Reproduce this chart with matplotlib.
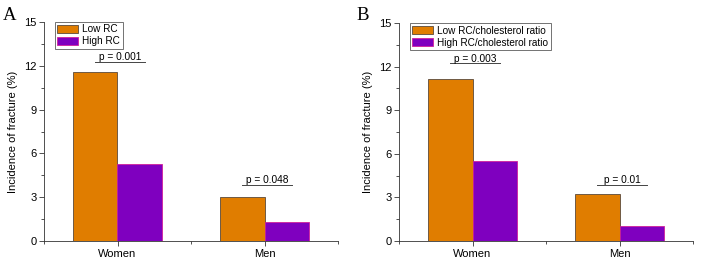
import matplotlib
matplotlib.use("Agg")
import matplotlib.pyplot as plt
from matplotlib.ticker import MultipleLocator
import numpy as np

plt.rcParams['font.family'] = ['Liberation Sans', 'DejaVu Sans']

categories = ["Women", "Men"]
a_low = [11.58, 2.98]
a_high = [5.27, 1.28]
a_p = ["p = 0.001", "p = 0.048"]
a_labels = ["Low RC", "High RC"]
b_low = [11.17, 3.23]
b_high = [5.50, 1.03]
b_p = ["p = 0.003", "p = 0.01"]
b_labels = ["Low RC/cholesterol ratio", "High RC/cholesterol ratio"]
p_line_y = [[12.25, 3.82], [12.23, 3.87]]

orange = "#E07D00"
purple = "#7F00BF"

fig = plt.figure(figsize=(7.08, 2.71), dpi=100)
W, H = 708, 271

def make_ax(left, right, top, bottom):
    return fig.add_axes([left / W, 1 - bottom / H, (right - left) / W, (bottom - top) / H])

axA = make_ax(44, 338, 22, 241)
axB = make_ax(399, 693, 23, 241)

def draw(ax, low, high, labels, pvals, ply, letter, lx):
    x = np.arange(1, len(categories) + 1)
    w = 0.3
    ax.bar(x - w / 2, low, w, color=orange, edgecolor="#5a4a3a", linewidth=0.6, label=labels[0])
    ax.bar(x + w / 2, high, w, color=purple, edgecolor="#d0209a", linewidth=0.6, label=labels[1])
    ax.set_xlim(0.5, 2.5)
    ax.set_ylim(0, 15)
    ax.set_xticks(x)
    ax.set_xticklabels(categories, fontsize=8)
    ax.xaxis.set_minor_locator(MultipleLocator(0.5))
    ax.yaxis.set_major_locator(MultipleLocator(3))
    ax.yaxis.set_minor_locator(MultipleLocator(1.5))
    ax.tick_params(axis='both', which='major', length=3.5, width=0.6, labelsize=8, color="#333333", pad=2)
    ax.tick_params(axis='both', which='minor', length=2, width=0.6, color="#333333")
    ax.set_ylabel("Incidence of fracture (%)", fontsize=8, labelpad=4)
    for s in ["top", "right"]:
        ax.spines[s].set_visible(False)
    for s in ["left", "bottom"]:
        ax.spines[s].set_linewidth(0.6)
        ax.spines[s].set_color("#333333")
    for xi, yv, pt in zip(x, ply, pvals):
        ax.plot([xi - 0.155, xi + 0.19], [yv, yv], color="#444444", linewidth=0.7)
        ax.text(xi + 0.02, yv + 0.12, pt, ha="center", va="baseline", fontsize=7.3)
    leg = ax.legend(loc="upper left", bbox_to_anchor=(0.037, 1.0), fontsize=7.2, frameon=True,
                    fancybox=False, edgecolor="#333333", handlelength=2.1, handleheight=0.75,
                    borderpad=0.25, labelspacing=0.2, handletextpad=0.4, borderaxespad=0.0)
    leg.get_frame().set_linewidth(0.6)
    fig.text(lx / W, 1 - 16 / H, letter, fontsize=13.5, family="Liberation Serif", ha="left", va="center")

draw(axA, a_low, a_high, a_labels, a_p, p_line_y[0], "A", 3)
draw(axB, b_low, b_high, b_labels, b_p, p_line_y[1], "B", 356)

fig.savefig("out.png", dpi=100)
